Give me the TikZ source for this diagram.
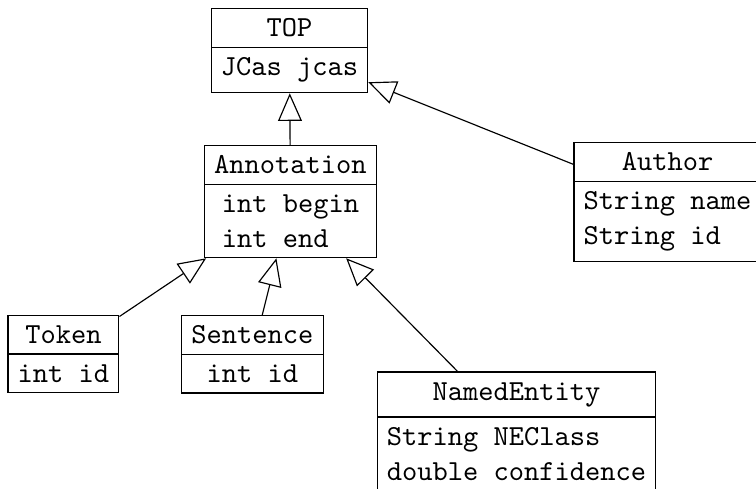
\documentclass[tikz,border=0pt]{standalone}
\usepackage{tikz}
\usetikzlibrary{arrows.meta, shapes.multipart}

\begin{document}
\begin{tikzpicture}[font=\ttfamily,
      cls/.style={draw, rectangle split, rectangle split parts=2, align=left, anchor=north},
      inh/.style={-{Triangle[open, length=9.5pt, width=8.2pt]}}]
  \useasboundingbox (0,0) rectangle (9.148,5.905);
  % classes
  \node[cls] (top) at (3.503,5.808) {TOP \nodepart{two} JCas jcas};
  \node[cls] (annotation) at (3.515,4.150) {Annotation \nodepart{two} int begin\\int end};
  \node[cls] (author) at (8.077,4.187) {Author \nodepart{two} String name\\String id};
  \node[cls] (token) at (0.768,2.093) {Token \nodepart{two} int id};
  \node[cls] (sentence) at (3.055,2.093) {Sentence \nodepart{two} int id};
  \node[cls] (namedentity) at (6.250,1.410) {NamedEntity \nodepart{two} String NEClass\\double confidence};
  % inheritance
  \draw[inh] (annotation) -- (top);
  \draw[inh] (author) -- (top);
  \draw[inh] (token) -- (annotation);
  \draw[inh] (sentence) -- (annotation);
  \draw[inh] (namedentity) -- (annotation);
\end{tikzpicture}
\end{document}
